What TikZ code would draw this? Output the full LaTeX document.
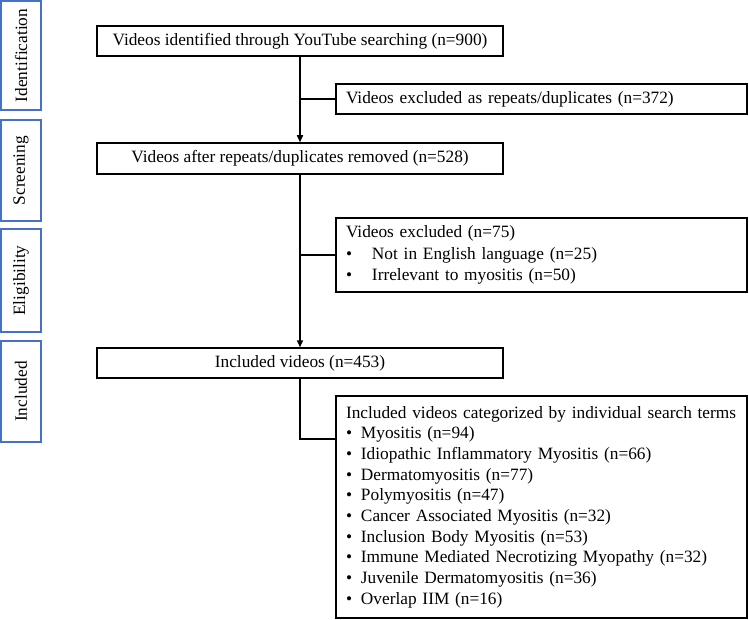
\documentclass[tikz,border=0pt]{standalone}
\usepackage{fontspec}
\setmainfont{Liberation Serif}
\usetikzlibrary{arrows.meta}
\definecolor{sideblue}{HTML}{4472C4}
\newcommand{\blt}[1]{\makebox[#1][l]{•}}
\begin{document}
\begin{tikzpicture}[x=1pt,y=-1pt,
  txt/.style={font=\fontsize{17.3}{20.7}\selectfont},
  mainbox/.style={txt, draw=black, line width=1.5pt, minimum width=406pt, minimum height=30pt, inner sep=0pt},
  sidebox/.style={txt, draw=sideblue, line width=1.3pt, minimum height=40pt, inner sep=0pt, rotate=90},
  excbox/.style={txt, draw=black, line width=1.5pt, text width=391pt, inner xsep=10pt, inner ysep=0pt, align=left},
  link/.style={line width=1.5pt},
  arrow/.style={link, -{Triangle[length=7pt,width=6pt]}}]
\useasboundingbox (0,0) rectangle (749,620);

% stage labels
\node[sidebox, minimum width=109pt] (sid) at (21,55.5) {Identification};
\node[sidebox, minimum width=101pt] (sscr) at (21,170.5) {Screening};
\node[sidebox, minimum width=103pt] (selig) at (21,280.5) {Eligibility};
\node[sidebox, minimum width=101pt] (sincl) at (21,391.5) {Included};

% main flow
\node[mainbox] (b1) at (300,41) {Videos identified through YouTube searching (n=900)};
\node[excbox, minimum height=30pt] (b2) at (541.5,99) {Videos excluded as repeats/duplicates (n=372)};
\node[mainbox, minimum height=31pt] (b3) at (300,158.5) {Videos after repeats/duplicates removed (n=528)};
\node[excbox, minimum height=74pt, font=\fontsize{17.3}{21.7}\selectfont] (b4) at (541.5,255) {Videos excluded (n=75)\\
\blt{26pt}Not in English language (n=25)\\
\blt{26pt}Irrelevant to myositis (n=50)};
\node[mainbox] (b5) at (300,363) {Included videos (n=453)};
\node[excbox, minimum height=222pt] (b6) at (541.5,507) {Included videos categorized by individual search terms\\
\blt{15pt}Myositis (n=94)\\
\blt{15pt}Idiopathic Inflammatory Myositis (n=66)\\
\blt{15pt}Dermatomyositis (n=77)\\
\blt{15pt}Polymyositis (n=47)\\
\blt{15pt}Cancer Associated Myositis (n=32)\\
\blt{15pt}Inclusion Body Myositis (n=53)\\
\blt{15pt}Immune Mediated Necrotizing Myopathy (n=32)\\
\blt{15pt}Juvenile Dermatomyositis (n=36)\\
\blt{15pt}Overlap IIM (n=16)};

\coordinate (incl) at (336,439);

% connectors
\draw[arrow] (b1.south) -- (b3.north);
\draw[link] (b1.south |- b2.west) -- (b2.west);
\draw[arrow] (b3.south) -- (b5.north);
\draw[link] (b3.south |- b4.west) -- (b4.west);
\draw[link] (b5.south) |- (incl);
\end{tikzpicture}
\end{document}
